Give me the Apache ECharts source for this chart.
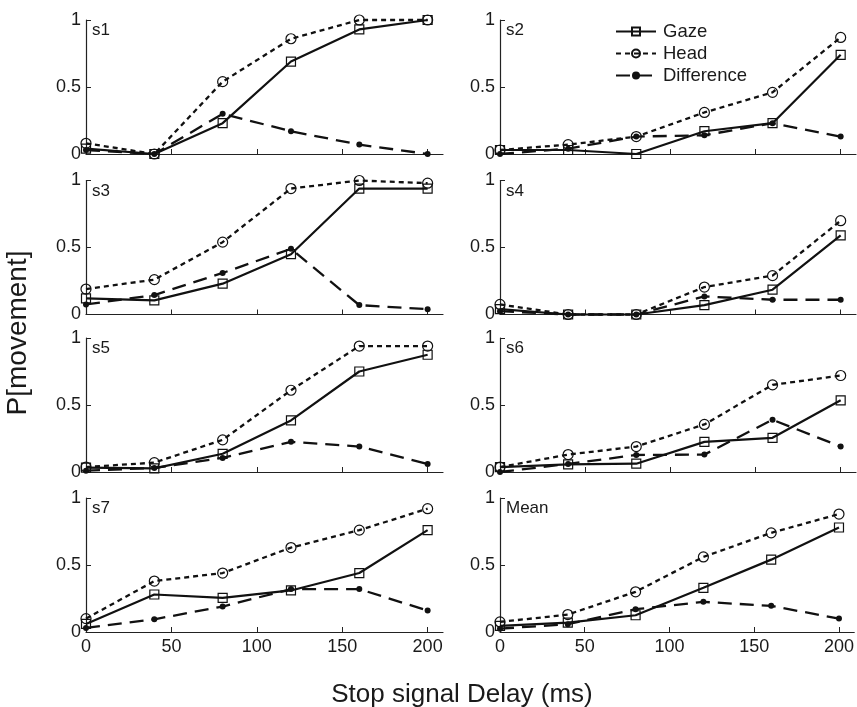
<!DOCTYPE html>
<html>
<head>
<meta charset="utf-8">
<script src="https://cdn.jsdelivr.net/npm/echarts@6/dist/echarts.min.js"></script>
<style>
html,body{margin:0;padding:0;background:#fff;}
#chart{width:857px;height:707px;}
</style>
</head>
<body>
<div id="chart"></div>
<script>
// ---- data ----
const delays = [0, 40, 80, 120, 160, 200];
const xTicks = [0, 50, 100, 150, 200];
const yTicks = [0, 0.5, 1];
const panelLabels = ['s1', 's2', 's3', 's4', 's5', 's6', 's7', 'Mean'];
const seriesNames = ['Gaze', 'Head', 'Difference'];

const gazeS1 = [0.04, 0.00, 0.23, 0.69, 0.93, 1.00];
const headS1 = [0.08, 0.00, 0.54, 0.86, 1.00, 1.00];
const diffS1 = [0.03, 0.00, 0.30, 0.17, 0.07, 0.00];

const gazeS2 = [0.03, 0.03, 0.00, 0.17, 0.23, 0.74];
const headS2 = [0.03, 0.07, 0.13, 0.31, 0.46, 0.87];
const diffS2 = [0.00, 0.04, 0.13, 0.14, 0.23, 0.13];

const gazeS3 = [0.12, 0.105, 0.23, 0.45, 0.94, 0.94];
const headS3 = [0.19, 0.26, 0.54, 0.94, 1.00, 0.98];
const diffS3 = [0.075, 0.145, 0.31, 0.49, 0.07, 0.04];

const gazeS4 = [0.04, 0.00, 0.00, 0.07, 0.185, 0.59];
const headS4 = [0.075, 0.00, 0.00, 0.205, 0.29, 0.70];
const diffS4 = [0.025, 0.00, 0.00, 0.135, 0.11, 0.11];

const gazeS5 = [0.032, 0.027, 0.136, 0.385, 0.75, 0.875];
const headS5 = [0.037, 0.07, 0.24, 0.61, 0.94, 0.94];
const diffS5 = [0.01, 0.03, 0.105, 0.225, 0.19, 0.06];

const gazeS6 = [0.037, 0.057, 0.062, 0.225, 0.255, 0.535];
const headS6 = [0.037, 0.13, 0.19, 0.355, 0.65, 0.72];
const diffS6 = [0.00, 0.06, 0.127, 0.13, 0.39, 0.19];

const gazeS7 = [0.06, 0.28, 0.255, 0.31, 0.44, 0.76];
const headS7 = [0.10, 0.38, 0.44, 0.63, 0.76, 0.92];
const diffS7 = [0.03, 0.095, 0.19, 0.32, 0.32, 0.16];

const gazeMean = [0.045, 0.07, 0.125, 0.33, 0.54, 0.78];
const headMean = [0.075, 0.13, 0.30, 0.56, 0.74, 0.88];
const diffMean = [0.025, 0.058, 0.17, 0.225, 0.195, 0.10];

const panelData = [
  [gazeS1, headS1, diffS1],
  [gazeS2, headS2, diffS2],
  [gazeS3, headS3, diffS3],
  [gazeS4, headS4, diffS4],
  [gazeS5, headS5, diffS5],
  [gazeS6, headS6, diffS6],
  [gazeS7, headS7, diffS7],
  [gazeMean, headMean, diffMean]
];

// ---- layout ----
const FONT = '"Liberation Sans", Arial, Helvetica, sans-serif';
const INK = '#111';
const TXT = '#1a1a1a';
const colLeft = [86, 500];
const colWidth = [357, 356];
const rowTop = [20, 180.5, 338, 498];
const gridH = 134;

const grids = [], xAxes = [], yAxes = [], series = [], titles = [];

panelLabels.forEach((lab, i) => {
  const r = Math.floor(i / 2), c = i % 2;
  grids.push({left: colLeft[c], top: rowTop[r], width: colWidth[c], height: gridH, containLabel: false});
  const bottom = r === 3;
  xAxes.push({
    type: 'value', gridIndex: i, min: 0, max: 209,
    axisLine: {show: true, onZero: false, lineStyle: {color: '#222', width: 1.2}},
    axisTick: {show: true, inside: true, length: 5, customValues: xTicks.slice(1), lineStyle: {color: '#222', width: 1}},
    axisLabel: {show: bottom, customValues: xTicks, fontFamily: FONT, fontSize: 18, color: TXT, margin: 6},
    splitLine: {show: false}
  });
  yAxes.push({
    type: 'value', gridIndex: i, min: 0, max: 1, interval: 0.5,
    axisLine: {show: true, onZero: false, lineStyle: {color: '#222', width: 1.2}},
    axisTick: {show: true, inside: true, length: 5, customValues: yTicks.slice(1), lineStyle: {color: '#222', width: 1}},
    axisLabel: {show: true, customValues: yTicks, fontFamily: FONT, fontSize: 18, color: TXT, margin: 5,
      formatter: v => String(v)},
    splitLine: {show: false}
  });
  titles.push({
    text: lab, left: colLeft[c] + 6, top: rowTop[r] + 2, padding: 0,
    textStyle: {fontFamily: FONT, fontSize: 17, fontWeight: 'normal', color: TXT}
  });
  const [g, h, d] = panelData[i];
  const pairs = arr => delays.map((x, k) => [x, arr[k]]);
  series.push({
    name: seriesNames[0], type: 'line', xAxisIndex: i, yAxisIndex: i, data: pairs(g),
    symbol: 'rect', symbolSize: 9, clip: false, z: 3,
    lineStyle: {color: INK, width: 2.2, type: 'solid'},
    itemStyle: {color: 'rgba(0,0,0,0)', borderColor: INK, borderWidth: 1.2},
    emphasis: {disabled: true}
  });
  series.push({
    name: seriesNames[1], type: 'line', xAxisIndex: i, yAxisIndex: i, data: pairs(h),
    symbol: 'circle', symbolSize: 10, clip: false, z: 4,
    lineStyle: {color: INK, width: 2.3, type: [5, 4]},
    itemStyle: {color: 'rgba(0,0,0,0)', borderColor: INK, borderWidth: 1.2},
    emphasis: {disabled: true}
  });
  series.push({
    name: seriesNames[2], type: 'line', xAxisIndex: i, yAxisIndex: i, data: pairs(d),
    symbol: 'circle', symbolSize: 6, clip: false, z: 5,
    lineStyle: {color: INK, width: 2.3, type: [14, 8]},
    itemStyle: {color: INK, borderColor: INK, borderWidth: 0},
    emphasis: {disabled: true}
  });
});

const chart = echarts.init(document.getElementById('chart'), null, {renderer: 'canvas'});
chart.setOption({
  backgroundColor: '#fff',
  animation: false,
  title: titles,
  grid: grids,
  xAxis: xAxes,
  yAxis: yAxes,
  series: series,
  legend: {
    data: seriesNames,
    orient: 'vertical',
    left: 615, top: 22,
    itemWidth: 40, itemHeight: 10, itemGap: 3,
    padding: 0,
    textStyle: {fontFamily: FONT, fontSize: 18.5, color: TXT, lineHeight: 18, padding: [0, 0, 0, 2]},
    selectedMode: false
  },
  graphic: [
    {type: 'text', x: 462, y: 695, style: {text: 'Stop signal Delay (ms)', font: '26px ' + FONT, fill: TXT, textAlign: 'center', textVerticalAlign: 'middle'}},
    {type: 'text', x: 18, y: 333, rotation: Math.PI / 2, style: {text: 'P[movement]', font: '28px ' + FONT, fill: TXT, textAlign: 'center', textVerticalAlign: 'middle'}}
  ]
});
</script>
</body>
</html>
